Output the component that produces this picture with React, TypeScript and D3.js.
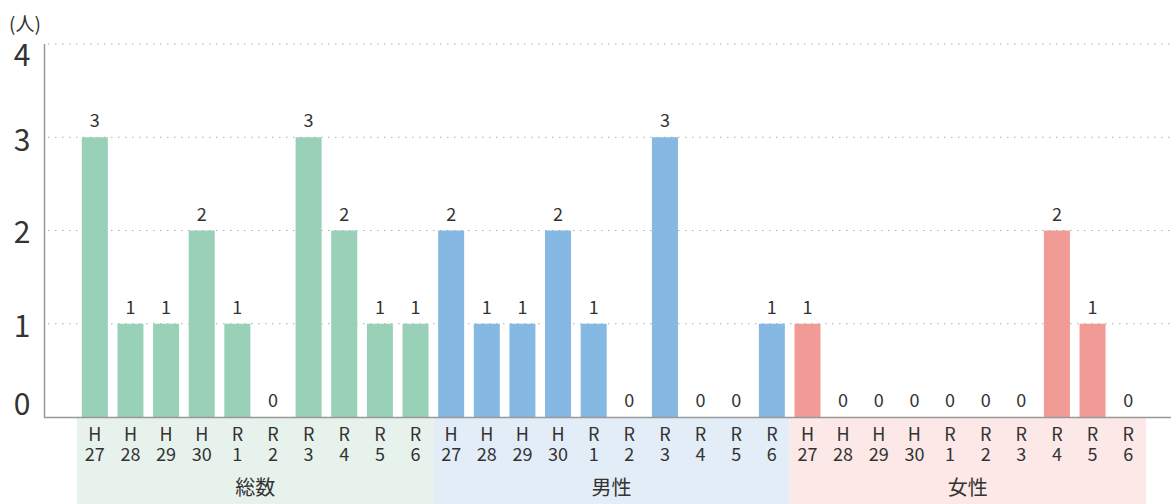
import React from "react";
import * as d3 from "d3";

const years = ["H27", "H28", "H29", "H30", "R1", "R2", "R3", "R4", "R5", "R6"];
const groups = ["総数", "男性", "女性"];
const totalValues = [3, 1, 1, 2, 1, 0, 3, 2, 1, 1];
const maleValues = [2, 1, 1, 2, 1, 0, 3, 0, 0, 1];
const femaleValues = [1, 0, 0, 0, 0, 0, 0, 2, 1, 0];
const yTicks = [0, 1, 2, 3, 4];
const yTickOffsets = [-2, 13, 12, 14, 22];
const barColors = ["#99d0b8", "#85b8e3", "#f19b96"];
const bandColors = ["#e8f2ec", "#e3edf8", "#fce8e7"];

const W = 1171;
const H = 504;
const FONT = "'Noto Sans CJK JP', 'Noto Sans', sans-serif";

export default function App() {
  const seriesValues = [totalValues, maleValues, femaleValues];
  const items = groups.flatMap((g, gi) =>
    years.map((y, yi) => ({ key: `${g}-${y}`, group: g, gi, year: y, value: seriesValues[gi][yi] }))
  );
  const x = d3.scaleBand<string>().domain(items.map((d) => d.key)).range([77, 1146]).paddingInner(0.27).paddingOuter(0.135);
  const y = d3.scaleLinear().domain([0, 4]).range([417, 44]);
  const step = x.step();

  return (
    <svg width={W} height={H} style={{ position: "absolute", left: 0, top: 0, fontFamily: FONT }}>
      {groups.map((g, gi) => {
        const first = x(`${g}-${years[0]}`)!;
        const last = x(`${g}-${years[years.length - 1]}`)!;
        const left = first - (step - x.bandwidth()) / 2;
        const right = last + x.bandwidth() + (step - x.bandwidth()) / 2;
        return (
          <g key={g}>
            <rect x={left} y={418} width={right - left} height={H - 418} fill={bandColors[gi]} />
            <text x={(left + right) / 2} y={495} textAnchor="middle" fontSize={20} fill="#333">{g}</text>
          </g>
        );
      })}
      {yTicks.filter((t) => t > 0).map((t) => (
        <line key={t} x1={48} x2={W} y1={y(t)} y2={y(t)} stroke="#aaa" strokeWidth={1} strokeDasharray="1.5 5.5" />
      ))}
      {yTicks.map((t, i) => (
        <text key={t} x={22} y={y(t) + yTickOffsets[i]} textAnchor="middle" fontSize={30} fill="#333">{t}</text>
      ))}
      <text x={9} y={31} fontSize={19} fill="#333">(人)</text>
      {items.map((d) => (
        <g key={d.key}>
          {d.value > 0 && (
            <rect x={x(d.key)} y={y(d.value)} width={x.bandwidth()} height={y(0) - y(d.value)} fill={barColors[d.gi]} />
          )}
          <text x={x(d.key)! + x.bandwidth() / 2} y={y(d.value) - 10} textAnchor="middle" fontSize={18} fill="#333">{d.value}</text>
          <text x={x(d.key)! + x.bandwidth() / 2} y={441} textAnchor="middle" fontSize={18} fill="#333">{d.year.slice(0, 1)}</text>
          <text x={x(d.key)! + x.bandwidth() / 2} y={461} textAnchor="middle" fontSize={18} fill="#333">{d.year.slice(1)}</text>
        </g>
      ))}
      <line x1={44.5} x2={44.5} y1={44} y2={418} stroke="#999" strokeWidth={1.5} />
      <line x1={44} x2={W} y1={417.5} y2={417.5} stroke="#999" strokeWidth={1.5} />
    </svg>
  );
}
